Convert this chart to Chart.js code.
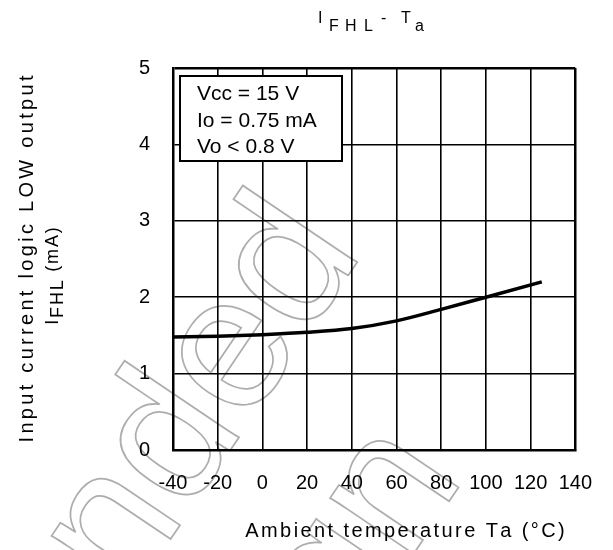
<!DOCTYPE html>
<html>
<head>
<meta charset="utf-8">
<script src="https://cdn.jsdelivr.net/npm/chart.js@4.4.1/dist/chart.umd.min.js"></script>
<style>
html,body{margin:0;padding:0;background:#fff;}
canvas{display:block;}
</style>
</head>
<body>
<canvas id="c" width="613" height="550"></canvas>
<script>
// ---- data ----
const temperatures = [-40, -20, 0, 20, 40, 60, 80, 100, 125];
const ifhlValues   = [1.48, 1.49, 1.51, 1.54, 1.59, 1.69, 1.84, 2.0, 2.2];
const xTickLabels  = ['-40','-20','0','20','40','60','80','100','120','140'];
const yTickLabels  = ['0','1','2','3','4','5'];
const conditions   = ['Vcc = 15 V', 'Io = 0.75 mA', 'Vo < 0.8 V'];
const xTitle = 'Ambient temperature Ta (°C)';
const yTitle1 = 'Input current logic LOW output';
const FONT = "'Liberation Sans', Arial, sans-serif";

function spacedWidth(ctx, text, sp){
  let w = 0;
  for (const ch of text) w += ctx.measureText(ch).width + sp;
  return w - sp;
}
function drawSpaced(ctx, text, x, y, sp){
  let cx = x;
  for (const ch of text){ ctx.fillText(ch, cx, y); cx += ctx.measureText(ch).width + sp; }
  return cx;
}

const decor = {
  id: 'decor',
  beforeDraw(chart){
    const ctx = chart.ctx;
    ctx.save();
    ctx.fillStyle = '#fff';
    ctx.fillRect(0, 0, chart.width, chart.height);
    // faint outlined watermark
    ctx.translate(364, 252);
    ctx.rotate(-56 * Math.PI / 180);
    ctx.font = '190px ' + FONT;
    ctx.textAlign = 'right';
    ctx.textBaseline = 'alphabetic';
    ctx.strokeStyle = '#adadad';
    ctx.lineWidth = 1.7;
    ctx.strokeText('Not Recommended', 0, 0);
    ctx.strokeText('for New Design', -130, 210);
    ctx.restore();
  },
  afterDraw(chart){
    const ctx = chart.ctx;
    ctx.save();
    ctx.fillStyle = '#000';
    ctx.textBaseline = 'alphabetic';
    ctx.textAlign = 'left';

    // title  I_FHL - T_a
    ctx.font = '16px ' + FONT;
    const title = [['I',318,23],['F',329,31],['H',345,31],['L',364,31],['-',381,23],['T',401,23],['a',415,31]];
    for (const [ch,x,y] of title) ctx.fillText(ch, x, y);

    // x axis title
    ctx.font = '20px ' + FONT;
    const wx = spacedWidth(ctx, xTitle, 2.4);
    drawSpaced(ctx, xTitle, 405 - wx/2, 537, 2.4);

    // y axis title line 1
    ctx.save();
    ctx.translate(33, 259);
    ctx.rotate(-Math.PI/2);
    ctx.font = '20px ' + FONT;
    const wy = spacedWidth(ctx, yTitle1, 3.3);
    drawSpaced(ctx, yTitle1, -wy/2, 0, 3.3);
    ctx.restore();

    // y axis title line 2: I_FHL (mA)
    ctx.save();
    ctx.translate(58, 276);
    ctx.rotate(-Math.PI/2);
    ctx.font = '18px ' + FONT;
    const sp = 1.8;
    const total = spacedWidth(ctx, 'I', sp) + sp + spacedWidth(ctx, 'FHL', sp) + sp + spacedWidth(ctx, ' (mA)', sp);
    let u = -total/2;
    u = drawSpaced(ctx, 'I', u, 0, sp);
    u = drawSpaced(ctx, 'FHL', u, 5, sp);
    drawSpaced(ctx, ' (mA)', u, 0, sp);
    ctx.restore();

    // conditions box
    ctx.fillStyle = '#fff';
    ctx.fillRect(180, 76, 162, 85);
    ctx.strokeStyle = '#000';
    ctx.lineWidth = 2;
    ctx.strokeRect(180, 76, 162, 85);
    ctx.fillStyle = '#000';
    ctx.font = '21px ' + FONT;
    const base = [100, 127, 152.5];
    conditions.forEach((t,i) => ctx.fillText(t, 197, base[i]));
    ctx.restore();
  }
};

new Chart(document.getElementById('c'), {
  type: 'line',
  data: {
    datasets: [{
      data: temperatures.map((t,i) => ({x: t, y: ifhlValues[i]})),
      borderColor: '#000',
      borderWidth: 3.5,
      pointRadius: 0,
      fill: false,
      cubicInterpolationMode: 'monotone'
    }]
  },
  options: {
    responsive: false,
    animation: false,
    devicePixelRatio: 1,
    layout: { padding: { top: 68, right: 34, left: 0, bottom: 0 } },
    plugins: { legend: { display: false }, tooltip: { enabled: false }, title: { display: false } },
    scales: {
      x: {
        type: 'linear', min: -40, max: 140,
        afterBuildTicks: s => { s.ticks = xTickLabels.map(v => ({value: Number(v)})); },
        afterFit: s => { s.height = 100; },
        ticks: { color: '#000', font: { family: FONT, size: 20 }, padding: 21, maxRotation: 0, autoSkip: false,
                 callback: (v, i) => xTickLabels[i] },
        grid: { color: '#000', drawTicks: false, lineWidth: c => (c.tick && c.tick.value === 140) ? 2.5 : 1.6 },
        border: { color: '#000', width: 2.5 }
      },
      y: {
        min: 0, max: 5,
        afterBuildTicks: s => { s.ticks = yTickLabels.map(v => ({value: Number(v)})); },
        afterFit: s => { s.width = 173; },
        ticks: { color: '#000', font: { family: FONT, size: 20 }, padding: 23,
                 callback: (v, i) => yTickLabels[i] },
        grid: { color: '#000', drawTicks: false, lineWidth: c => (c.tick && c.tick.value === 5) ? 2.5 : 1.6 },
        border: { color: '#000', width: 2.5 }
      }
    }
  },
  plugins: [decor]
});
</script>
</body>
</html>
